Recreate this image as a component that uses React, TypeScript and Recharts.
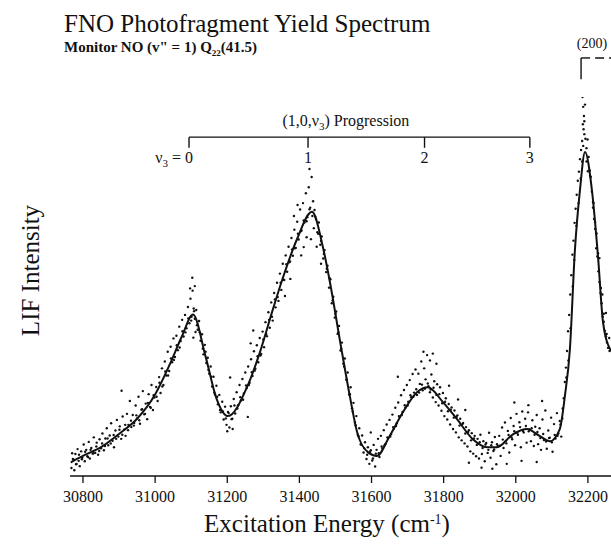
import React from 'react'
import { ComposedChart, Line, Scatter, XAxis, YAxis, ReferenceLine, ReferenceDot } from 'recharts'

// x axis ticks (cm-1)
const xTicks = [30800, 31000, 31200, 31400, 31600, 31800, 32000, 32200]

// smoothed fit through the yield spectrum
const fitEnergy = [
  30766, 30800, 30850, 30900, 30950, 31000, 31040, 31075, 31105, 31140, 31170, 31202, 31255, 31290, 31325, 31355,
  31393, 31435, 31465, 31485, 31512, 31540, 31560, 31590, 31615, 31650, 31687, 31726, 31756, 31798, 31837, 31881,
  31920, 31948, 31992, 32031, 32067, 32095, 32122, 32136, 32150, 32164, 32178, 32192, 32211, 32228, 32242, 32264,
]
const fitIntensity = [
  3.6, 5.3, 7.6, 11.1, 15.1, 21.5, 29.3, 37.0, 42.6, 31.5, 20.5, 15.8, 23.5, 32.5, 43.5, 52.5,
  62.4, 69.7, 60.5, 51.0, 36.0, 21.0, 11.6, 6.3, 5.3, 10.5, 16.8, 22.1, 23.4, 19.5, 15.0, 9.7,
  7.6, 7.6, 11.0, 12.4, 10.5, 9.2, 12.4, 21.0, 33.4, 59.7, 75.5, 85.5, 75.5, 57.9, 40.5, 33.0,
]

// raw LIF points [energy, intensity], scattered shots
const scanPoints = [
  [30768, 2.1], [30770, 6.0], [30773, 4.4], [30776, 1.5], [30779, 5.8], [30782, 3.2], [30785, 7.1], [30788, 4.0],
  [30791, 2.6], [30795, 6.5], [30798, 4.8], [30802, 8.3], [30805, 3.9], [30809, 6.9], [30812, 5.2], [30816, 9.0],
  [30819, 4.6], [30823, 7.4], [30827, 5.9], [30830, 10.2], [30834, 6.1], [30838, 8.8], [30842, 5.6], [30846, 9.7],
  [30850, 7.3], [30854, 11.2], [30858, 6.8], [30862, 9.9], [30866, 12.6], [30870, 8.1], [30874, 10.7], [30878, 13.9],
  [30882, 9.3], [30886, 7.6], [30890, 12.0], [30894, 14.8], [30898, 10.4], [30902, 13.1], [30906, 9.8], [30907, 22.5],
  [30910, 15.7], [30914, 12.2], [30918, 10.6], [30922, 16.4], [30926, 13.5], [30930, 19.8], [30934, 12.9], [30938, 16.1],
  [30942, 14.0], [30946, 18.6], [30950, 15.2], [30954, 20.9], [30958, 13.8], [30962, 17.5], [30966, 22.4], [30970, 16.3],
  [30974, 19.1], [30978, 15.0], [30982, 21.6], [30986, 18.2], [30990, 24.0], [30994, 17.4], [30998, 20.7],
  [31003, 23.5], [31007, 19.8], [31011, 26.1], [31015, 21.9], [31019, 28.4], [31023, 24.0], [31027, 30.2], [31031, 26.5],
  [31035, 32.8], [31039, 27.7], [31043, 34.1], [31047, 30.0], [31051, 36.3], [31055, 31.4], [31059, 37.0], [31063, 33.2],
  [31067, 39.4], [31071, 35.6], [31075, 41.2], [31079, 36.8], [31083, 42.5], [31087, 39.0], [31091, 44.6], [31095, 40.3],
  [31098, 46.8], [31101, 42.0], [31104, 48.9], [31107, 44.2], [31103, 52.3], [31110, 50.1], [31097, 49.5], [31106, 36.5],
  [31112, 38.0], [31110, 41.5], [31114, 43.8], [31118, 38.6], [31122, 40.9], [31126, 35.7], [31130, 37.4], [31134, 32.1],
  [31138, 34.6], [31142, 29.8], [31146, 31.2], [31150, 27.0], [31154, 28.9], [31158, 23.6], [31162, 26.2], [31166, 21.5],
  [31170, 23.8], [31174, 18.9], [31178, 21.4], [31182, 16.8], [31186, 19.6], [31190, 14.9], [31194, 18.3], [31198, 13.5],
  [31202, 16.9], [31206, 12.8], [31210, 18.4], [31214, 15.1], [31208, 26.0], [31200, 11.8], [31215, 12.4],
  [31218, 20.3], [31222, 16.5], [31226, 22.1], [31230, 18.7], [31234, 24.0], [31238, 19.9], [31242, 25.6], [31246, 21.8],
  [31250, 27.3], [31254, 23.2], [31258, 28.9], [31262, 24.6], [31266, 30.8], [31270, 26.4], [31274, 32.9], [31278, 28.3],
  [31282, 34.5], [31286, 30.0], [31290, 36.4], [31294, 32.2], [31298, 38.1], [31257, 15.6], [31272, 38.4], [31265, 35.0],
  [31302, 34.0], [31306, 40.6], [31310, 36.9], [31314, 43.2], [31318, 39.1], [31322, 45.8], [31326, 41.0], [31330, 48.3],
  [31334, 44.5], [31338, 51.0], [31342, 46.2], [31346, 53.4], [31350, 49.1], [31354, 56.0], [31358, 51.7], [31362, 58.2],
  [31366, 53.9], [31370, 60.5], [31374, 56.6], [31378, 62.8], [31382, 58.1], [31386, 65.0], [31390, 60.2], [31394, 67.1],
  [31398, 62.4], [31402, 70.3], [31406, 64.8], [31410, 72.0], [31414, 66.9], [31418, 74.6], [31422, 68.3], [31426, 76.2],
  [31430, 70.8], [31434, 78.9], [31438, 72.5], [31428, 81.0], [31420, 63.0], [31412, 60.4], [31405, 58.2], [31432, 62.5],
  [31440, 65.4], [31395, 71.5], [31385, 68.6], [31375, 52.0], [31360, 47.5],
  [31442, 70.2], [31446, 67.8], [31450, 64.3], [31454, 66.9], [31458, 61.0], [31462, 63.2], [31466, 57.4], [31470, 59.6],
  [31474, 53.8], [31478, 55.5], [31482, 49.7], [31486, 51.9], [31490, 45.6], [31494, 47.3], [31498, 41.8], [31502, 43.4],
  [31506, 37.5], [31510, 39.6], [31514, 33.1], [31518, 35.2], [31522, 29.6], [31526, 31.0], [31530, 25.4], [31534, 27.3],
  [31538, 21.5], [31542, 23.4], [31546, 17.9], [31550, 19.3], [31554, 14.1], [31558, 15.8], [31562, 10.9], [31566, 12.6],
  [31570, 8.4], [31574, 10.7], [31578, 6.2], [31582, 8.9], [31586, 4.5], [31590, 7.6], [31594, 3.2], [31598, 6.8],
  [31460, 56.0], [31448, 60.5], [31598, 11.5],
  [31602, 4.1], [31606, 8.2], [31610, 2.5], [31614, 6.9], [31618, 9.8], [31622, 5.0], [31626, 10.6], [31630, 7.3],
  [31634, 12.1], [31638, 8.4], [31642, 13.6], [31646, 9.9], [31650, 14.8], [31654, 11.0], [31658, 16.2], [31662, 12.5],
  [31666, 18.0], [31670, 13.9], [31674, 19.4], [31678, 15.6], [31682, 21.3], [31686, 16.9], [31690, 22.7], [31694, 18.1],
  [31698, 24.0], [31702, 19.6], [31706, 25.3], [31710, 20.8], [31714, 26.9], [31718, 22.0], [31722, 28.1], [31726, 21.4],
  [31730, 27.0], [31734, 24.3], [31738, 30.2], [31742, 22.6], [31746, 28.4], [31750, 25.5], [31754, 31.9], [31758, 23.7],
  [31673, 26.2], [31762, 30.5], [31770, 32.3], [31780, 29.6], [31744, 32.8],
  [31762, 22.1], [31766, 26.8], [31770, 20.7], [31774, 25.0], [31778, 19.5], [31782, 24.2], [31786, 18.6], [31790, 23.4],
  [31794, 17.2], [31798, 21.9], [31802, 15.8], [31806, 20.5], [31810, 14.9], [31814, 19.0], [31818, 13.6], [31822, 18.1],
  [31826, 12.4], [31830, 17.3], [31834, 11.5], [31838, 16.0], [31842, 10.2], [31846, 15.1], [31850, 9.4], [31854, 14.0],
  [31858, 8.6], [31862, 12.9], [31866, 7.8], [31870, 12.1], [31874, 6.5], [31878, 11.3], [31882, 5.9], [31886, 10.6],
  [31890, 5.2], [31894, 9.8], [31898, 4.6], [31902, 10.9], [31906, 5.8], [31910, 9.2], [31914, 3.9], [31918, 8.7],
  [31922, 6.1], [31926, 11.4], [31930, 4.8], [31934, 8.9], [31938, 6.6], [31942, 10.3], [31946, 3.1], [31950, 7.9],
  [31815, 23.8], [31840, 20.2], [31860, 17.4], [31870, 3.5], [31905, 2.2], [31935, 1.9],
  [31954, 10.6], [31958, 5.3], [31962, 12.8], [31966, 7.4], [31970, 14.1], [31974, 8.6], [31978, 11.9], [31982, 6.2],
  [31986, 15.3], [31990, 9.7], [31994, 13.2], [31998, 8.1], [32002, 16.4], [32006, 10.9], [32010, 14.2], [32014, 7.6],
  [32018, 17.0], [32022, 11.5], [32026, 15.1], [32030, 8.8], [32034, 16.8], [32038, 12.3], [32042, 9.2], [32046, 14.7],
  [32050, 7.9], [32054, 13.0], [32058, 16.1], [32062, 8.4], [32066, 12.6], [32070, 6.9], [32074, 14.9], [32078, 9.5],
  [32082, 17.3], [32086, 7.2], [32090, 12.0], [32094, 10.1], [32098, 15.4], [32102, 6.4], [32106, 13.7], [32110, 9.9],
  [32114, 16.6], [32118, 11.2], [32122, 14.5], [32126, 10.4], [32130, 17.8],
  [31996, 19.4], [32035, 18.7], [32073, 19.8], [32016, 4.0], [31975, 3.2], [32058, 3.7],
  [32133, 20.5], [32136, 24.8], [32139, 28.6], [32142, 33.0], [32145, 38.2], [32148, 42.5], [32151, 47.9], [32154, 53.0],
  [32157, 58.4], [32160, 62.1], [32163, 66.8], [32166, 70.5], [32169, 74.2], [32172, 77.9], [32175, 80.3], [32178, 83.6],
  [32181, 86.0], [32184, 88.4], [32187, 87.1], [32190, 90.2], [32193, 89.0], [32196, 86.5], [32199, 88.8],
  [32185, 100.0], [32187, 97.4], [32189, 95.0], [32186, 92.8], [32192, 98.0], [32190, 93.6], [32188, 91.5],
  [32202, 84.2], [32205, 80.6], [32208, 78.9], [32211, 75.0], [32214, 72.3], [32217, 67.8], [32220, 65.2], [32223, 60.1],
  [32226, 57.9], [32229, 54.0], [32232, 51.2], [32235, 48.3], [32238, 45.6], [32241, 42.0], [32244, 40.7], [32247, 38.3],
  [32250, 36.9], [32253, 35.2], [32256, 33.8], [32259, 36.4],
  [32216, 72.0], [32224, 64.0], [32232, 57.5], [32240, 47.9], [32250, 43.0],
]

// raw LIF points close to the fit (the dense band)
const scanPointsNear = [
  [30772, 4.5], [30781, 3.1], [30789, 5.6], [30797, 4.4], [30806, 6.4], [30814, 5.0], [30821, 6.9], [30829, 6.0],
  [30837, 7.8], [30845, 6.6], [30853, 8.6], [30861, 7.9], [30868, 9.9], [30877, 8.6], [30885, 10.8], [30892, 9.8],
  [30901, 12.2], [30909, 10.9], [30917, 13.5], [30925, 12.1], [30933, 14.6], [30941, 13.3], [30948, 16.0], [30956, 14.7],
  [30964, 17.6], [30972, 16.4], [30980, 19.3], [30988, 18.0], [30996, 21.3], [31004, 20.9], [31012, 24.6], [31020, 23.6],
  [31028, 27.6], [31036, 26.5], [31044, 31.0], [31052, 30.6], [31060, 34.5], [31068, 33.9], [31076, 38.2], [31084, 37.9],
  [31092, 41.6], [31100, 41.0], [31108, 43.5], [31116, 39.8], [31124, 37.9], [31132, 33.6], [31140, 32.8], [31148, 28.0],
  [31156, 26.2], [31164, 22.0], [31172, 20.9], [31180, 17.4], [31188, 17.0], [31196, 15.2], [31204, 16.6], [31212, 15.0],
  [31220, 18.6], [31228, 17.8], [31236, 20.8], [31244, 20.1], [31252, 23.9], [31260, 24.0], [31268, 27.4], [31276, 27.8],
  [31284, 31.6], [31292, 31.8], [31300, 36.0], [31308, 37.5], [31316, 41.2], [31324, 42.0], [31332, 46.6], [31340, 47.2],
  [31348, 51.0], [31356, 51.8], [31364, 55.9], [31372, 56.4], [31380, 59.8], [31388, 60.1], [31396, 63.9], [31404, 64.6],
  [31412, 67.4], [31420, 67.2], [31428, 70.4], [31436, 68.6], [31444, 68.4], [31452, 63.9], [31460, 62.0], [31468, 58.6],
  [31476, 54.7], [31484, 52.2], [31492, 46.3], [31500, 42.8], [31508, 37.9], [31516, 33.6], [31524, 28.9], [31532, 25.4],
  [31540, 21.6], [31548, 17.0], [31556, 13.4], [31564, 10.5], [31572, 8.2], [31580, 7.3], [31588, 5.6], [31596, 6.4],
  [31604, 4.6], [31612, 5.9], [31620, 6.0], [31628, 7.8], [31636, 8.1], [31644, 10.2], [31652, 10.4], [31660, 12.9],
  [31668, 13.2], [31676, 15.8], [31684, 16.1], [31692, 18.7], [31700, 18.6], [31708, 21.3], [31716, 20.9], [31724, 22.9],
  [31732, 22.0], [31740, 24.1], [31748, 23.0], [31756, 24.4], [31764, 22.8], [31772, 23.3], [31780, 21.4], [31788, 21.6],
  [31796, 19.2], [31804, 19.6], [31812, 17.1], [31820, 17.5], [31828, 15.4], [31836, 15.6], [31844, 13.3], [31852, 13.7],
  [31860, 11.2], [31868, 11.6], [31876, 9.4], [31884, 9.9], [31892, 8.2], [31900, 8.9], [31908, 7.4], [31916, 8.3],
  [31924, 6.9], [31932, 8.1], [31940, 7.0], [31948, 8.4], [31956, 8.0], [31964, 9.6], [31972, 9.2], [31980, 10.8],
  [31988, 10.2], [31996, 11.8], [32004, 11.4], [32012, 12.9], [32020, 11.9], [32028, 13.2], [32036, 11.8], [32044, 12.6],
  [32052, 10.9], [32060, 11.6], [32068, 10.0], [32076, 11.1], [32084, 9.1], [32092, 10.0], [32100, 8.9], [32108, 10.8],
  [32116, 10.6], [32124, 13.6], [32129, 15.2], [32140, 26.0], [32146, 30.5], [32152, 39.0], [32158, 50.0], [32162, 57.0],
  [32168, 66.0], [32174, 72.0], [32180, 78.5], [32184, 83.0], [32196, 83.0], [32200, 80.4], [32206, 79.2], [32214, 70.8],
  [32220, 67.0], [32228, 58.8], [32236, 49.6], [32244, 42.8], [32252, 37.5], [32260, 33.0],
]

// (1,0,v3) progression assignment
const progressionLevels = ['0', '1', '2', '3']
const progressionEnergy = [31094, 31424, 31747, 32039]
const band200Energy = 32181

const fitData = fitEnergy.map((x, i) => ({ x, y: fitIntensity[i] }))
const scanData = scanPoints.concat(scanPointsNear).map(([x, y]) => ({ x, y }))

const serif = "'Liberation Serif', 'Times New Roman', serif"
const ink = '#111'

const PointShape = (props: any) => <circle cx={props.cx} cy={props.cy} r={1.2} fill={ink} />

const App = () => {
  const barY = 89.4
  const tickY = 86.6
  const labelY = 84.0
  return (
    <div style={{ position: 'absolute', left: 0, top: 0, width: 611, height: 544, background: '#fff', fontFamily: serif, color: ink }}>
      <div style={{ position: 'absolute', left: 64, top: 11, fontSize: 25, lineHeight: '25px', whiteSpace: 'nowrap' }}>
        FNO Photofragment Yield Spectrum
      </div>
      <div style={{ position: 'absolute', left: 64, top: 40, fontSize: 15, lineHeight: '15px', fontWeight: 'bold', whiteSpace: 'nowrap' }}>
        Monitor NO (v" = 1) Q<sub style={{ fontSize: 9, verticalAlign: -4 }}>22</sub>(41.5)
      </div>
      <div style={{ position: 'absolute', left: 562, top: 37, width: 60, textAlign: 'center', fontSize: 14, lineHeight: '14px' }}>(200)</div>
      <div style={{ position: 'absolute', left: -70, top: 258, width: 200, textAlign: 'center', fontSize: 25, lineHeight: '25px', transform: 'rotate(-90deg)' }}>
        LIF Intensity
      </div>
      <div style={{ position: 'absolute', left: 127, top: 507, width: 400, textAlign: 'center', fontSize: 25, lineHeight: '25px' }}>
        Excitation Energy (cm<sup style={{ fontSize: 14, verticalAlign: 8 }}>-1</sup>)
      </div>

      <div style={{ position: 'absolute', left: 0, top: 0 }}>
        <ComposedChart width={611} height={544} margin={{ top: 97, right: 0, left: 70, bottom: 0 }}>
          <XAxis
            type='number'
            dataKey='x'
            domain={[30764, 32264]}
            ticks={xTicks}
            allowDataOverflow
            height={68}
            tickSize={7}
            tickMargin={8}
            axisLine={{ stroke: ink, strokeWidth: 1.5 }}
            tickLine={{ stroke: ink, strokeWidth: 1.3 }}
            tick={{ fill: ink, fontSize: 16, fontFamily: serif }}
          />
          <YAxis type='number' domain={[0, 100]} allowDataOverflow width={0} tick={false} tickLine={false} axisLine={{ stroke: ink, strokeWidth: 1.5 }} />

          <Scatter data={scanData} dataKey='y' shape={PointShape} isAnimationActive={false} />
          <Line data={fitData} dataKey='y' type='monotone' stroke={ink} strokeWidth={2} dot={false} activeDot={false} isAnimationActive={false} />

          {/* progression bracket */}
          <ReferenceLine
            segment={[{ x: progressionEnergy[0], y: barY }, { x: progressionEnergy[3], y: barY }]}
            stroke={ink}
            strokeWidth={1.4}
            ifOverflow='visible'
          />
          {progressionEnergy.map((e) => (
            <ReferenceLine key={`pt-${e}`} segment={[{ x: e, y: barY }, { x: e, y: tickY }]} stroke={ink} strokeWidth={1.4} ifOverflow='visible' />
          ))}
          {progressionEnergy.map((e, i) => (
            <ReferenceDot
              key={`pl-${e}`}
              x={e}
              y={labelY}
              r={0}
              fill='none'
              stroke='none'
              ifOverflow='visible'
              label={{
                content: (p: any) => {
                  const vb = p.viewBox || {}
                  return (
                    <g>
                      <text x={vb.x} y={vb.y + 5} textAnchor='middle' fontSize={16} fontFamily={serif} fill={ink}>
                        {progressionLevels[i]}
                      </text>
                      {i === 0 && (
                        <text x={vb.x - 8} y={vb.y + 5} textAnchor='end' fontSize={16} fontFamily={serif} fill={ink}>
                          ν<tspan dy={4} fontSize={11}>3</tspan>
                          <tspan dy={-4} dx={4}>=</tspan>
                        </text>
                      )}
                    </g>
                  )
                },
              }}
            />
          ))}
          <ReferenceDot
            x={31529}
            y={93.7}
            r={0}
            fill='none'
            stroke='none'
            ifOverflow='visible'
            label={{
              content: (p: any) => {
                const vb = p.viewBox || {}
                return (
                  <text x={vb.x} y={vb.y + 5} textAnchor='middle' fontSize={16} fontFamily={serif} fill={ink}>
                    (1,0,ν<tspan dy={4} fontSize={11}>3</tspan>
                    <tspan dy={-4}>) Progression</tspan>
                  </text>
                )
              },
            }}
          />

          {/* (200) band marker */}
          <ReferenceLine segment={[{ x: band200Energy, y: 110.3 }, { x: band200Energy, y: 104.7 }]} stroke={ink} strokeWidth={1.4} ifOverflow='visible' />
          <ReferenceLine segment={[{ x: band200Energy, y: 110.3 }, { x: 32206, y: 110.3 }]} stroke={ink} strokeWidth={1.4} ifOverflow='visible' />
          <ReferenceLine
            segment={[{ x: 32220, y: 110.3 }, { x: 32264, y: 110.3 }]}
            stroke={ink}
            strokeWidth={1.4}
            strokeDasharray='9 5'
            ifOverflow='visible'
          />
        </ComposedChart>
      </div>
    </div>
  )
}

export default App
